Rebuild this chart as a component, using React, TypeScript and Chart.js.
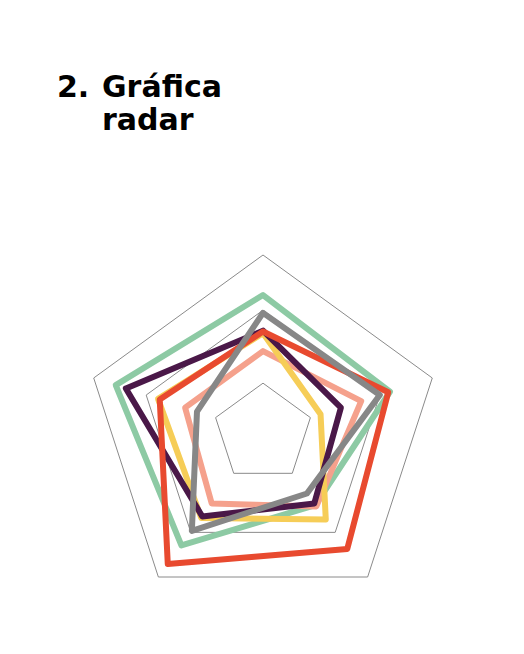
import { useEffect, useRef } from 'react'
import {
  Chart,
  Filler,
  LineElement,
  PointElement,
  RadarController,
  RadialLinearScale,
  type ChartConfiguration,
} from 'chart.js'

Chart.register(RadarController, RadialLinearScale, PointElement, LineElement, Filler)

// five axes, clockwise from the top; the reference shows no axis labels
const axes = ['Eje 1', 'Eje 2', 'Eje 3', 'Eje 4', 'Eje 5']

// values on a 0-100 scale
const grayValues = [67.5, 69, 42, 68, 39]
const redValues = [57, 74, 80.5, 91, 61]
const purpleValues = [57.5, 46, 49, 58, 81]
const yellowValues = [56, 34, 60, 59, 62]
const salmonValues = [46, 58, 51, 49, 46]
const greenValues = [77.5, 75, 50, 78, 87]

// the rings that are drawn (first tick = centre, not drawn)
const gridTicks = [0, 28, 69, 100]

const series = [
  { label: 'Gris', data: grayValues, color: '#878787' },
  { label: 'Rojo', data: redValues, color: '#e84a2f' },
  { label: 'Morado', data: purpleValues, color: '#4a1848' },
  { label: 'Amarillo', data: yellowValues, color: '#f6cd57' },
  { label: 'Salmón', data: salmonValues, color: '#f5a18c' },
  { label: 'Verde', data: greenValues, color: '#8dcaa4' },
]

const RadarChart = () => {
  const canvasRef = useRef<HTMLCanvasElement | null>(null)

  useEffect(() => {
    if (!canvasRef.current) {
      return undefined
    }

    const config: ChartConfiguration<'radar'> = {
      type: 'radar',
      data: {
        labels: axes,
        datasets: series.map((s) => ({
          label: s.label,
          data: s.data,
          borderColor: s.color,
          backgroundColor: 'transparent',
          borderWidth: 6,
          borderJoinStyle: 'round',
          fill: false,
          pointRadius: 0,
          pointHoverRadius: 0,
        })),
      },
      options: {
        animation: false,
        responsive: false,
        layout: { padding: 12 },
        scales: {
          r: {
            min: 0,
            max: 100,
            afterBuildTicks: (scale) => {
              scale.ticks = gridTicks.map((value) => ({ value }))
            },
            angleLines: { display: false },
            grid: { color: '#8a8a8a', lineWidth: 1 },
            pointLabels: { display: false },
            ticks: { display: false },
          },
        },
        plugins: {
          legend: { display: false },
          tooltip: { enabled: false },
        },
      },
    }

    const chart = new Chart(canvasRef.current, config)

    return () => {
      chart.destroy()
    }
  }, [])

  return (
    <canvas
      ref={canvasRef}
      width={380}
      height={380}
      style={{ position: 'absolute', left: 73, top: 243, width: 380, height: 380 }}
      aria-label="Gráfica radar"
    />
  )
}

const App = () => {
  const titleFont = {
    fontFamily: '"DejaVu Sans", sans-serif',
    fontWeight: 700,
    fontSize: 30,
    lineHeight: '33px',
    color: '#000',
    position: 'absolute' as const,
    top: 70,
  }

  return (
    <div style={{ position: 'fixed', left: 0, top: 0, width: 524, height: 654, background: '#fff' }}>
      <div style={{ ...titleFont, left: 57 }}>2.</div>
      <div style={{ ...titleFont, left: 102 }}>
        Gráfica
        <br />
        radar
      </div>
      <RadarChart />
    </div>
  )
}

export default App
